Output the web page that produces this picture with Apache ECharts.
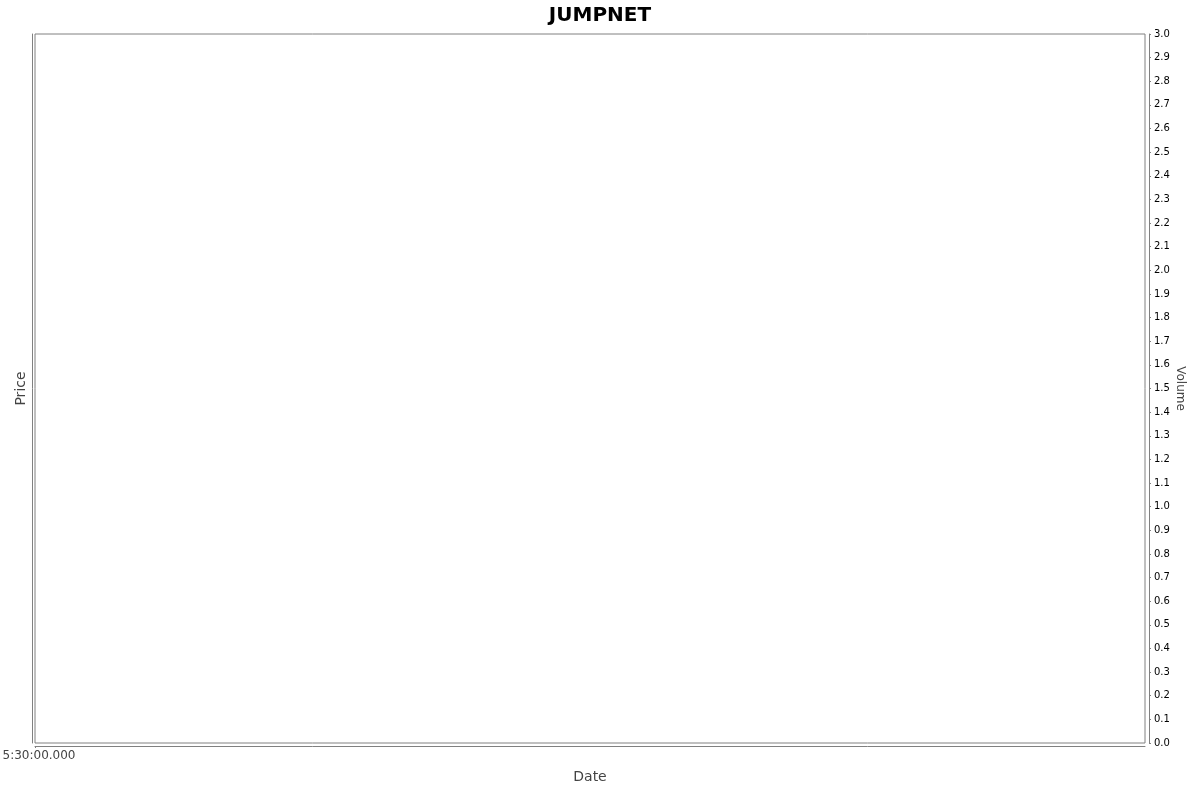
<!DOCTYPE html>
<html>
<head>
<meta charset="utf-8">
<script src="https://cdn.jsdelivr.net/npm/echarts@6/dist/echarts.min.js"></script>
<style>
html,body{margin:0;padding:0;background:#fff;}
#chart{width:1200px;height:792px;}
</style>
</head>
<body>
<div id="chart"></div>
<script>
const chartTitle = 'JUMPNET';
const dateTickLabels = ['5:30:00.000'];
const dateTickValues = [0];
const priceData = [];   // no OHLC data in the reference
const volumeData = [];  // no volume data in the reference
const volumeMin = 0;
const volumeMax = 3.0;
const volumeInterval = 0.1;

const FONT = 'DejaVu Sans';
const GRAY = '#808080';

const chart = echarts.init(document.getElementById('chart'));
chart.setOption({
  animation: false,
  backgroundColor: '#ffffff',
  title: {
    text: chartTitle,
    left: 'center',
    top: 1,
    textStyle: {fontFamily: FONT, fontSize: 20, fontWeight: 'bold', color: '#000'}
  },
  grid: {
    left: 35, right: 55, top: 34, bottom: 49,
    containLabel: false,
    outerBoundsMode: 'none',
    show: true, borderColor: GRAY, borderWidth: 1, backgroundColor: '#fff'
  },
  xAxis: {
    type: 'value',
    min: 0, max: 1,
    offset: 3,
    name: 'Date',
    nameLocation: 'middle',
    nameGap: 24,
    nameTextStyle: {fontFamily: FONT, fontSize: 14, color: '#444'},
    axisLine: {show: true, onZero: false, lineStyle: {color: GRAY, width: 1}},
    axisTick: {show: true, length: 2, lineStyle: {color: GRAY}, customValues: dateTickValues},
    axisLabel: {
      show: true, margin: 4, fontFamily: FONT, fontSize: 12, color: '#444',
      padding: [0, 0, 0, 8],
      customValues: dateTickValues,
      formatter: function (v) { const i = dateTickValues.indexOf(v); return i >= 0 ? dateTickLabels[i] : ''; }
    },
    splitLine: {show: false}
  },
  yAxis: [
    {
      type: 'value',
      position: 'left',
      offset: 3,
      min: 0, max: 1,
      name: 'Price',
      nameLocation: 'middle',
      nameGap: 4,
      nameTextStyle: {fontFamily: FONT, fontSize: 14, color: '#444'},
      axisLine: {show: true, onZero: false, lineStyle: {color: GRAY, width: 1}},
      axisTick: {show: false},
      axisLabel: {show: false},
      splitLine: {show: false}
    },
    {
      type: 'value',
      position: 'right',
      offset: 4,
      min: volumeMin, max: volumeMax, interval: volumeInterval,
      name: 'Volume',
      nameLocation: 'middle',
      nameRotate: -90,
      nameGap: 25,
      nameMoveOverlap: false,
      nameTextStyle: {fontFamily: FONT, fontSize: 12, color: '#444'},
      axisLine: {show: true, onZero: false, lineStyle: {color: GRAY, width: 1}},
      axisTick: {show: true, length: 2, lineStyle: {color: GRAY}},
      axisLabel: {
        show: true, margin: 5, fontFamily: FONT, fontSize: 10, color: '#000',
        formatter: function (v) { return v.toFixed(1); }
      },
      splitLine: {show: false}
    }
  ],
  series: [
    {name: 'Price', type: 'line', xAxisIndex: 0, yAxisIndex: 0, data: priceData, showSymbol: false},
    {name: 'Volume', type: 'bar', xAxisIndex: 0, yAxisIndex: 1, data: volumeData}
  ]
});
</script>
</body>
</html>
